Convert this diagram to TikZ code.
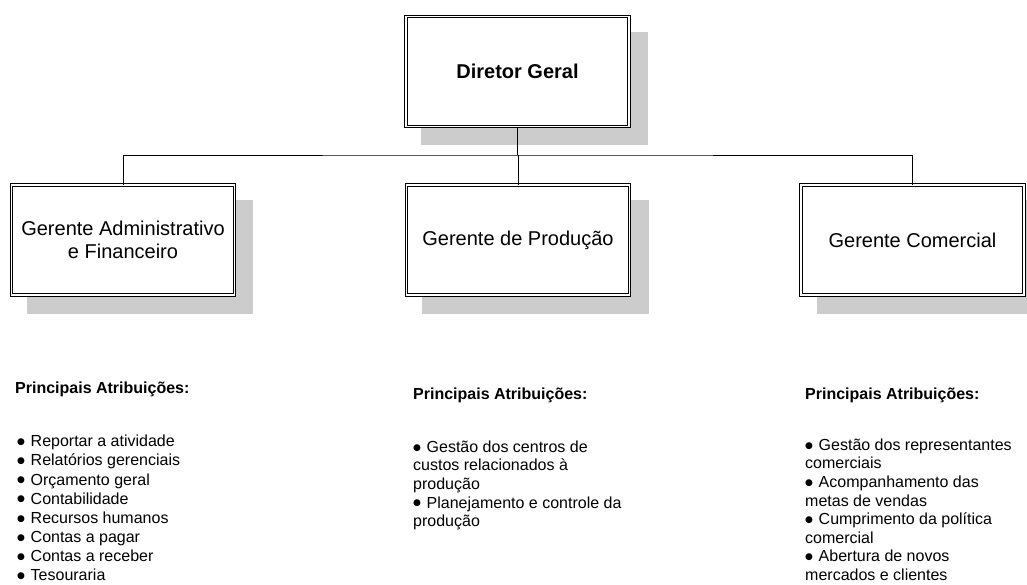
\documentclass[tikz,border=0pt]{standalone}
\usepackage{fontspec}
\setmainfont{Liberation Sans}
\newfontfamily\bulfont{DejaVu Sans}
\newcommand{\bul}{\makebox[13.5pt][l]{\raisebox{2.2pt}{\bulfont\fontsize{9}{9}\selectfont ●}}}
\begin{document}
\begin{tikzpicture}[x=1pt,y=-1pt,
  orgbox/.style={draw=black, double, double distance=1.8pt, line width=0.9pt, fill=white,
    minimum width=223pt, minimum height=110pt, inner sep=0pt, align=center,
    font=\fontsize{20}{23.5}\selectfont},
  shade/.style={fill=black!20, draw=none},
  conn/.style={draw=black, line width=0.9pt},
  head/.style={anchor=north west, inner sep=0pt, font=\fontsize{16}{18.6}\selectfont\bfseries},
  list/.style={anchor=north west, inner sep=0pt, align=left, font=\fontsize{16}{18.6}\selectfont}]
\useasboundingbox (0,0) rectangle (1027,584);
% shadows
\fill[shade] (421,32) rectangle (648,145);
\fill[shade] (27,200) rectangle (253,314);
\fill[shade] (422,200) rectangle (649,314);
\fill[shade] (817,200) rectangle (1042,314);
% boxes
\node[orgbox, font=\fontsize{20}{23.5}\selectfont\bfseries] (dir) at (517.5,71.5) {Diretor Geral};
\node[orgbox] (adm) at (123,240) {Gerente Administrativo\\e Financeiro};
\node[orgbox] (prod) at (518,240) {Gerente de Produção};
\node[orgbox] (com) at (912.5,240) {Gerente Comercial};
% connectors
\coordinate (bus) at (517.5,155);
\draw[conn] (dir.south) -- (bus);
\draw[conn] (adm.north) |- (bus) -| (com.north);
\draw[conn] (bus) -- (bus -| prod.north) -- (prod.north);
% attributions
\node[head] (h1) at (15,382) {Principais Atribuições:};
\node[head] (h2) at (413,387.5) {Principais Atribuições:};
\node[head] (h3) at (805,387.5) {Principais Atribuições:};
\node[list, font=\fontsize{16}{19.1}\selectfont] (l1) at (17,435) {\bul Reportar a atividade\\\bul Relatórios gerenciais\\\bul Orçamento geral\\\bul Contabilidade\\\bul Recursos humanos\\\bul Contas a pagar\\\bul Contas a receber\\\bul Tesouraria};
\node[list] (l2) at (413,440.5) {\bul Gestão dos centros de\\custos relacionados à\\produção\\\bul Planejamento e controle da\\produção};
\node[list] (l3) at (805,438.5) {\bul Gestão dos representantes\\comerciais\\\bul Acompanhamento das\\metas de vendas\\\bul Cumprimento da política\\comercial\\\bul Abertura de novos\\mercados e clientes};
\end{tikzpicture}
\end{document}
